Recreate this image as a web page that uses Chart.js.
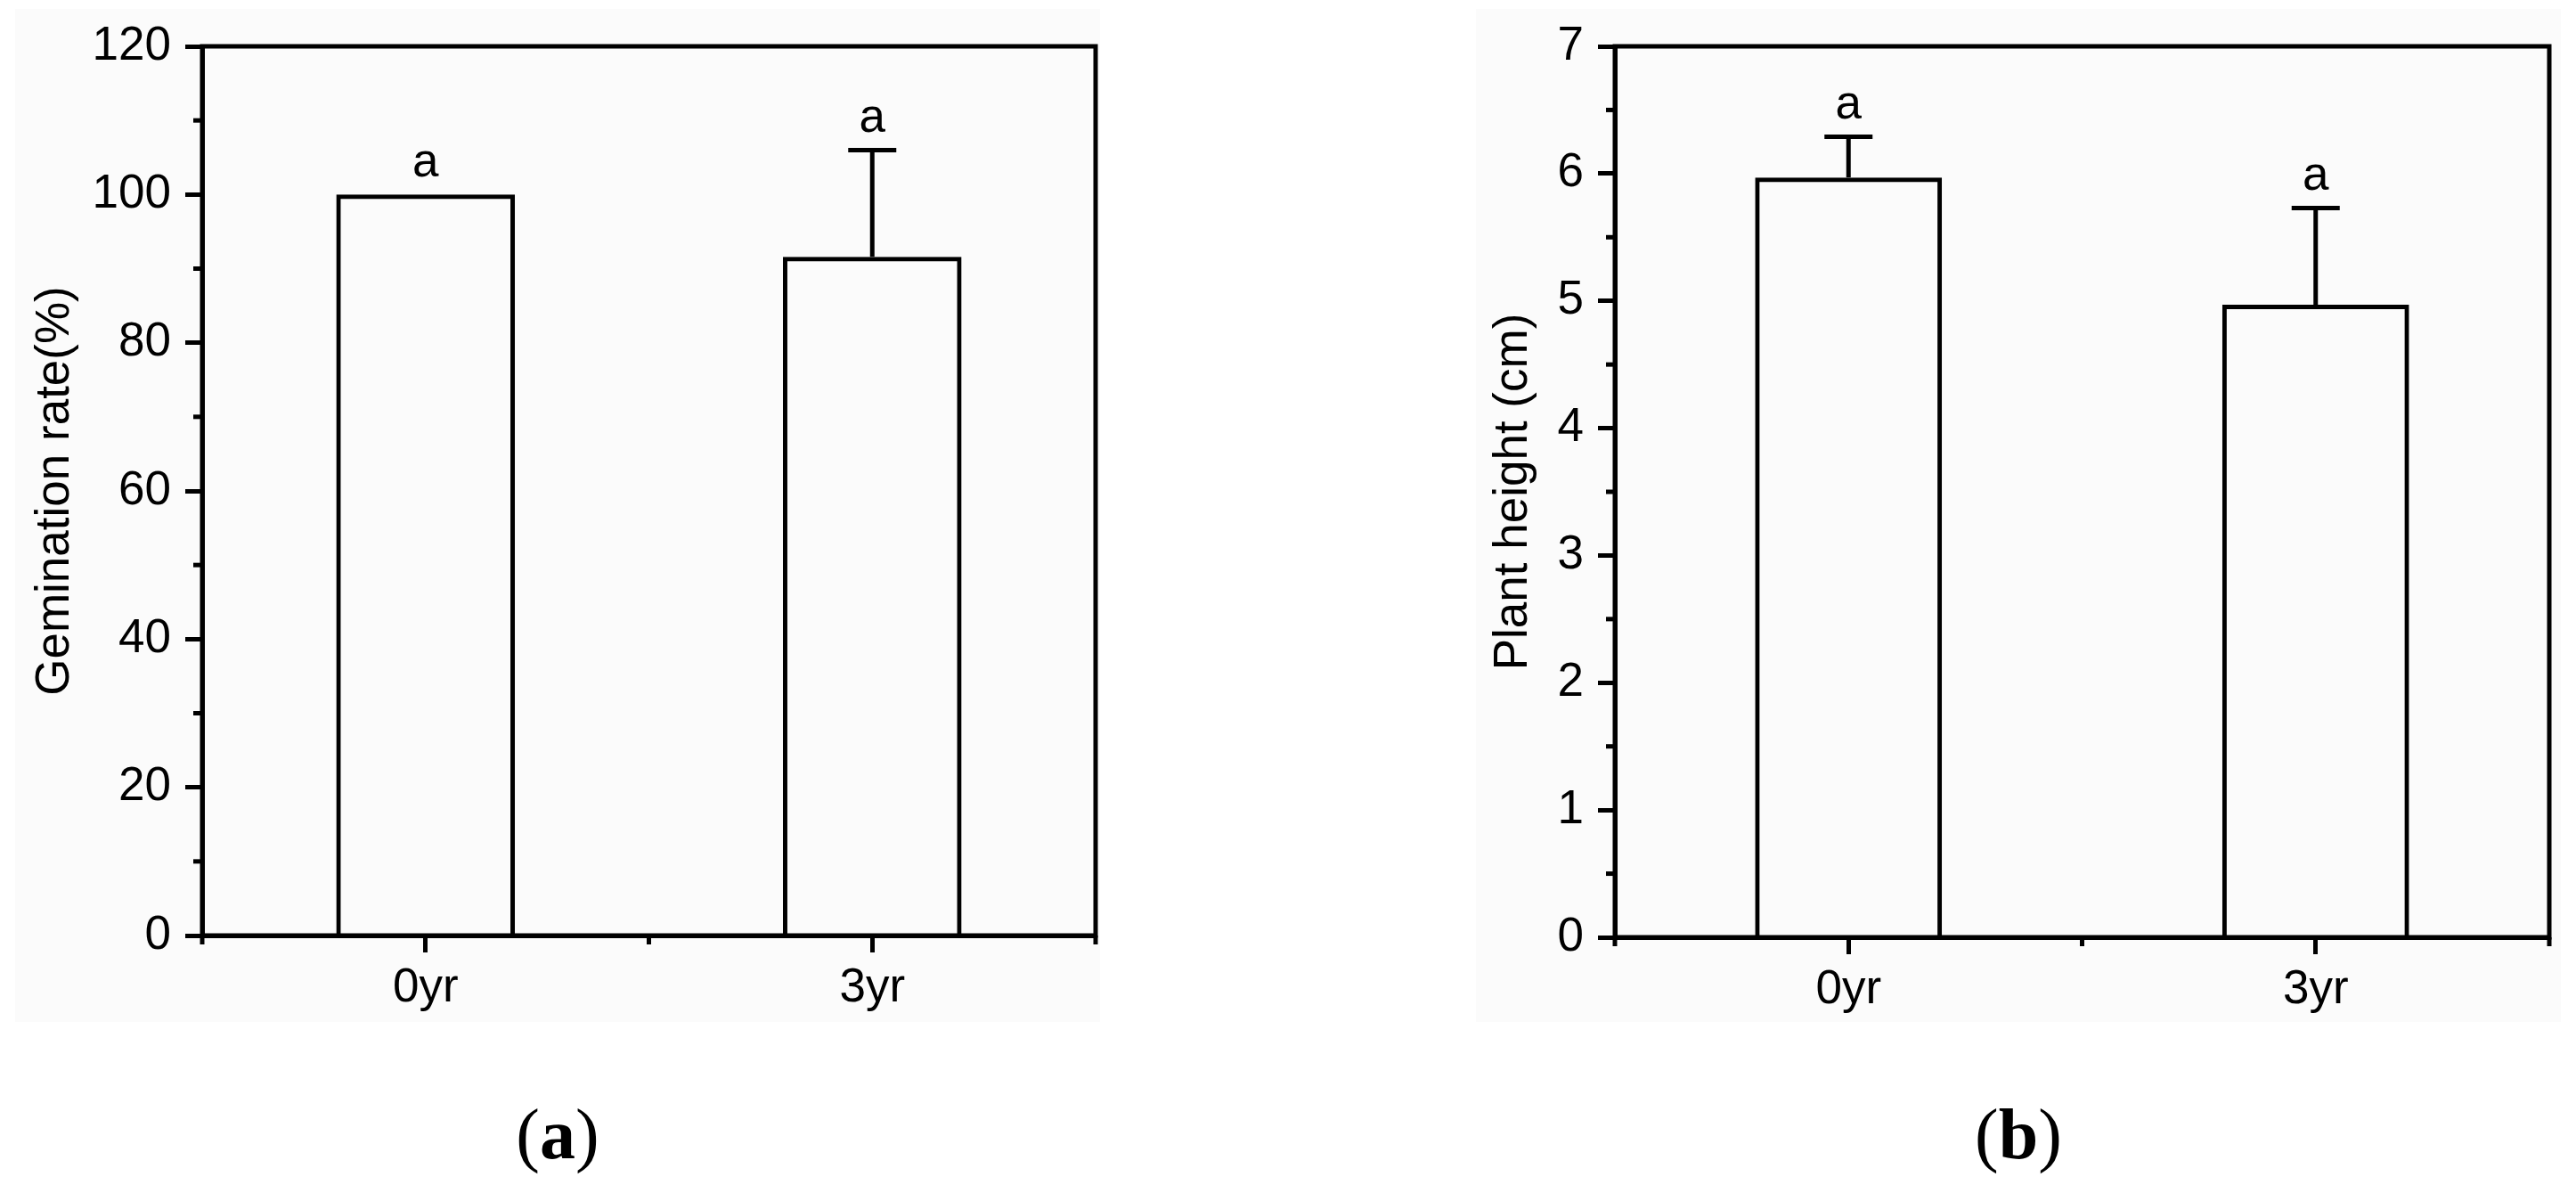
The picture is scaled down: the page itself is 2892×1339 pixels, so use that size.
<!DOCTYPE html>
<html>
<head>
<meta charset="utf-8">
<script src="https://cdn.jsdelivr.net/npm/chart.js@4.4.0/dist/chart.umd.min.js"></script>
<style>
html, body { margin: 0; padding: 0; background: #ffffff; width: 2892px; height: 1339px; overflow: hidden; }
.panel { position: absolute; background: #fbfbfb; }
.cv { position: absolute; top: 0; width: 1446px; height: 1339px; }
.cap { position: absolute; font-family: 'Liberation Serif', 'Times New Roman', serif; font-size: 80px; line-height: 1; transform: translate(-50%, -50%); color: #000; white-space: nowrap; }
</style>
</head>
<body>
<div class="panel" style="left:17px; top:10px; width:1218px; height:1137px;"></div>
<div class="panel" style="left:1657px; top:10px; width:1218px; height:1137px;"></div>
<div class="cv" style="left:0px;"><canvas id="chartA" width="1446" height="1339"></canvas></div>
<div class="cv" style="left:1446px;"><canvas id="chartB" width="1446" height="1339"></canvas></div>
<div class="cap" style="left:626px; top:1273px;">(<b>a</b>)</div>
<div class="cap" style="left:2266px; top:1273px;">(<b>b</b>)</div>
<script>
// ---- data ----
const categories = ['0yr', '3yr'];

const germinationRate = [100, 91.6];
const germinationErr = [0, 14.4];
const germinationLetters = ['a', 'a'];
const germinationTitle = 'Gemination rate(%)';
const germinationAxis = { min: 0, max: 120, step: 20 };

const plantHeight = [5.97, 4.97];
const plantHeightErr = [0.32, 0.76];
const plantHeightLetters = ['a', 'a'];
const plantHeightTitle = 'Plant height (cm)';
const plantHeightAxis = { min: 0, max: 7, step: 1 };

// ---- style ----
const LW = 5, MAJOR = 19, MINOR = 10, CAP = 54, GAP = 20, FS = 53;
const FONT = "'Liberation Sans', Arial, Helvetica, sans-serif";

const decor = {
  id: 'decor',
  afterDatasetsDraw(chart) {
    const { ctx, chartArea: a, scales: { x, y } } = chart;
    const ds = chart.data.datasets[0];
    const meta = chart.getDatasetMeta(0);
    ctx.save();
    ctx.strokeStyle = '#000';
    ctx.lineWidth = LW;
    ctx.lineCap = 'butt';
    const seg = (x1, y1, x2, y2) => { ctx.beginPath(); ctx.moveTo(x1, y1); ctx.lineTo(x2, y2); ctx.stroke(); };
    // frame
    ctx.strokeRect(a.left, a.top, a.right - a.left, a.bottom - a.top);
    // minor y ticks
    const yt = y.ticks;
    for (let i = 0; i < yt.length - 1; i++) {
      const py = y.getPixelForValue((yt[i].value + yt[i + 1].value) / 2);
      seg(a.left - MINOR, py, a.left, py);
    }
    // minor x ticks at category boundaries
    const cx = x.ticks.map((t, i) => x.getPixelForTick(i));
    const bounds = [a.left];
    for (let i = 0; i < cx.length - 1; i++) bounds.push((cx[i] + cx[i + 1]) / 2);
    bounds.push(a.right);
    bounds.forEach(px => seg(px, a.bottom, px, a.bottom + MINOR));
    // error bars and letters
    ctx.fillStyle = '#000';
    ctx.font = FS + 'px ' + FONT;
    ctx.textAlign = 'center';
    ctx.textBaseline = 'alphabetic';
    meta.data.forEach((bar, i) => {
      const v = ds.data[i], e = ds.errors[i];
      const top = y.getPixelForValue(v + e);
      if (e > 0) {
        seg(bar.x, bar.y, bar.x, top);
        seg(bar.x - CAP / 2, top, bar.x + CAP / 2, top);
      }
      ctx.fillText(ds.letters[i], bar.x, top - GAP);
    });
    ctx.restore();
  }
};

function build(id, values, errors, letters, axis, title, g) {
  const font = { family: FONT, size: FS };
  return new Chart(document.getElementById(id), {
    type: 'bar',
    data: {
      labels: categories,
      datasets: [{
        data: values,
        errors: errors,
        letters: letters,
        backgroundColor: 'rgba(0,0,0,0)',
        borderColor: '#000',
        borderWidth: LW,
        barPercentage: 0.4,
        categoryPercentage: 1
      }]
    },
    options: {
      responsive: false,
      animation: false,
      devicePixelRatio: 1,
      layout: { padding: g.pad },
      plugins: { legend: { display: false }, tooltip: { enabled: false } },
      scales: {
        x: {
          offset: true,
          grid: { offset: false, drawOnChartArea: false, drawTicks: true, tickLength: MAJOR, tickWidth: LW, tickColor: '#000' },
          border: { display: true, color: '#000', width: LW },
          ticks: { padding: g.xPad, font: font, color: '#000', maxRotation: 0, autoSkip: false },
          afterFit(s) { s.height = g.xH; }
        },
        y: {
          min: axis.min,
          max: axis.max,
          ticks: { stepSize: axis.step, padding: 16, font: font, color: '#000' },
          grid: { drawOnChartArea: false, drawTicks: true, tickLength: MAJOR, tickWidth: LW, tickColor: '#000' },
          border: { display: true, color: '#000', width: LW },
          title: { display: true, text: title, font: font, color: '#000', padding: { top: 0, bottom: 0 } },
          afterFit(s) { s.width = g.yW; }
        }
      }
    },
    plugins: [decor]
  });
}

build('chartA', germinationRate, germinationErr, germinationLetters, germinationAxis, germinationTitle,
  { pad: { left: 31, right: 216, top: 52, bottom: 159 }, yW: 196, xH: 130, xPad: 9 });
build('chartB', plantHeight, plantHeightErr, plantHeightLetters, plantHeightAxis, plantHeightTitle,
  { pad: { left: 222, right: 30, top: 52, bottom: 157 }, yW: 145, xH: 130, xPad: 9 });
</script>
</body>
</html>
